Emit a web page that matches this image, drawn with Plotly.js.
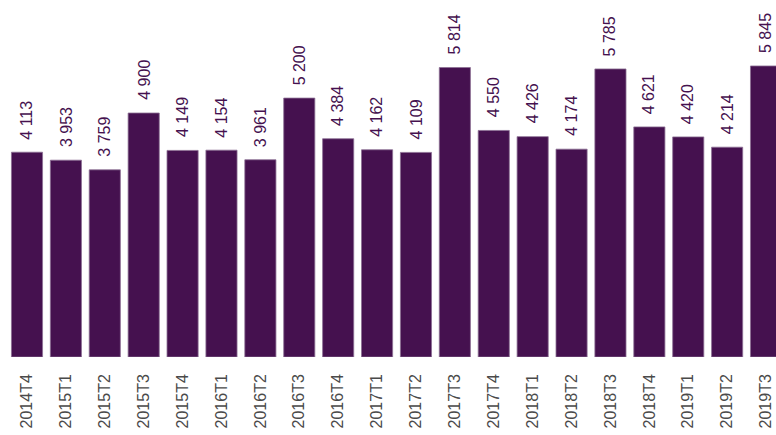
<!DOCTYPE html>
<html><head><meta charset="utf-8">
<script src="https://cdn.plot.ly/plotly-3.0.1.min.js"></script>
<style>html,body{margin:0;padding:0;background:#fff}#c{width:776px;height:435px}</style>
</head><body><div id="c"></div>
<script>
const quarters = ["2014T4","2015T1","2015T2","2015T3","2015T4","2016T1","2016T2","2016T3","2016T4","2017T1","2017T2","2017T3","2017T4","2018T1","2018T2","2018T3","2018T4","2019T1","2019T2","2019T3"];
const values = [4113,3953,3759,4900,4149,4154,3961,5200,4384,4162,4109,5814,4550,4426,4174,5785,4621,4420,4214,5845];

function fmt(v){return String(v).replace(/\B(?=(\d{3})+(?!\d))/g,' ');}

const purple = '#45114f';
const FONT = '"Liberation Sans", Arial, sans-serif';
const trace = {
  type:'bar', x:quarters, y:values,
  marker:{color:purple, line:{color:'#8c6e93', width:0.8}},
  hoverinfo:'none'
};
const annotations = quarters.map((q,i)=>({
  x:q, y:values[i], xref:'x', yref:'y', text:fmt(values[i]),
  textangle:-90, showarrow:false, yanchor:'bottom', xanchor:'center', yshift:11,
  font:{family:FONT, size:16, color:purple}
}));
const layout = {
  width:776, height:435,
  margin:{l:0,r:0,t:0,b:78},
  paper_bgcolor:'#fff', plot_bgcolor:'#fff',
  font:{family:FONT},
  bargap:0.2,
  showlegend:false,
  xaxis:{type:'category', range:[-0.694,19.256], tickangle:-90, showgrid:false, zeroline:false, showline:false, ticks:'',
    ticklabelstandoff:13,
    tickfont:{family:FONT, size:16, color:'#4a4a4a'}},
  yaxis:{range:[0,7170], visible:false, showgrid:false, zeroline:false},
  annotations:annotations
};
Plotly.newPlot('c',[trace],layout,{displayModeBar:false,staticPlot:true});
</script></body></html>
